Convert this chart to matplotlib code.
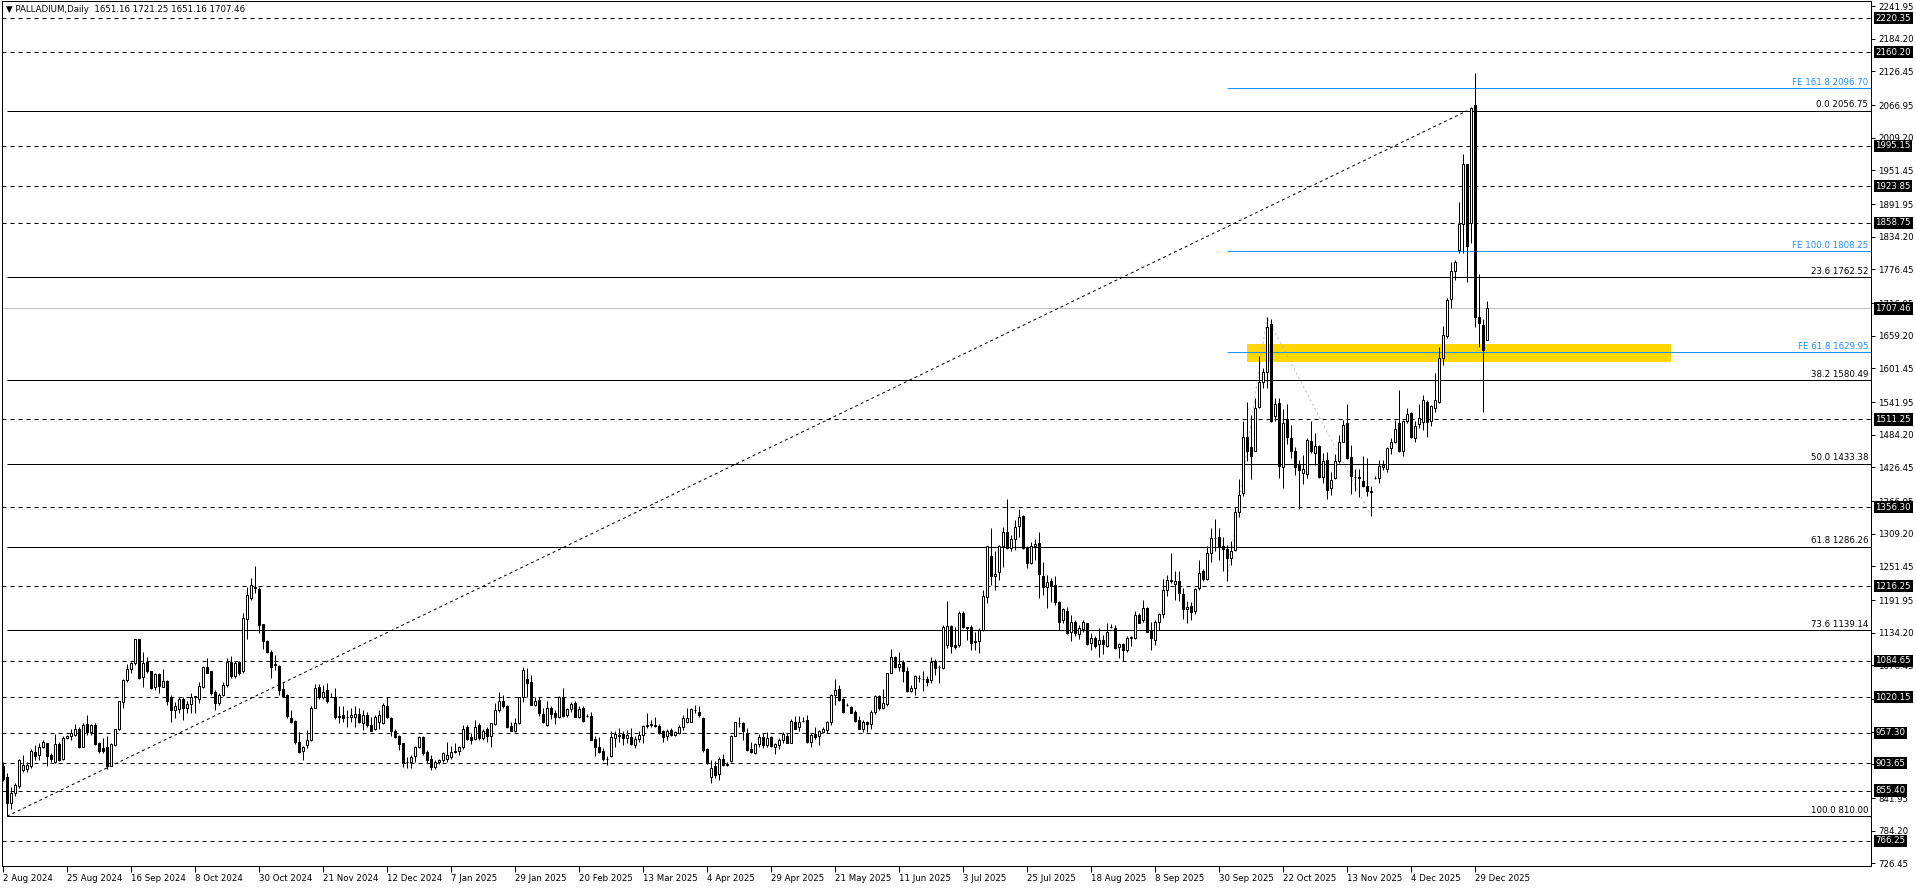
import numpy as np
import matplotlib.pyplot as plt
from matplotlib.patches import Rectangle

plt.rcParams['font.family'] = ['DejaVu Sans']
FS = 6.2
PX = 0.72  # one pixel, in points (dpi 100)

# daily OHLC, 2 Aug 2024 .. 5 Jan 2026
opens = [
    898, 880, 833, 851, 863, 891, 893, 898, 924, 918,
    933, 939, 918, 905, 938, 912, 948, 952, 953, 965,
    933, 973, 958, 971, 940, 930, 933, 899, 936, 964,
    1011, 1051, 1071, 1080, 1123, 1056, 1083, 1066, 1039, 1061,
    1039, 1049, 1021, 998, 999, 1017, 1001, 1008, 1021, 1018,
    1039, 1073, 1066, 1030, 1010, 1024, 1042, 1083, 1057, 1083,
    1066, 1158, 1195, 1214, 1211, 1149, 1119, 1101, 1077, 1076,
    1035, 1024, 984, 978, 942, 926, 935, 945, 1002, 1039,
    1020, 1033, 1021, 1021, 985, 989, 986, 986, 986, 991,
    974, 989, 971, 965, 977, 975, 1005, 984, 960, 951,
    939, 905, 905, 917, 932, 950, 924, 912, 897, 905,
    910, 912, 915, 924, 926, 932, 967, 950, 946, 971,
    948, 964, 952, 973, 998, 1013, 1005, 970, 961, 974,
    1020, 1053, 1047, 1006, 1016, 991, 971, 1001, 992, 985,
    1021, 989, 999, 1010, 986, 1002, 987, 987, 946, 933,
    926, 911, 917, 948, 951, 955, 948, 950, 936, 947,
    953, 970, 971, 971, 970, 960, 951, 963, 954, 957,
    968, 977, 977, 997, 995, 983, 928, 880, 898, 885,
    911, 901, 907, 952, 974, 974, 957, 928, 921, 938,
    950, 936, 950, 933, 936, 944, 952, 940, 977, 967,
    979, 980, 942, 956, 951, 958, 963, 976, 1024, 1034,
    1017, 1007, 1003, 995, 980, 965, 977, 973, 995, 1023,
    1001, 1008, 1064, 1091, 1073, 1083, 1067, 1032, 1036, 1054,
    1053, 1053, 1050, 1085, 1073, 1072, 1113, 1147, 1113, 1113,
    1169, 1144, 1145, 1119, 1120, 1139, 1198, 1270, 1235, 1242,
    1287, 1313, 1284, 1300, 1323, 1341, 1285, 1258, 1287, 1293,
    1235, 1215, 1226, 1219, 1189, 1157, 1173, 1135, 1153, 1132,
    1141, 1151, 1116, 1125, 1114, 1122, 1111, 1144, 1142, 1109,
    1114, 1103, 1125, 1125, 1166, 1156, 1178, 1138, 1122, 1154,
    1168, 1209, 1227, 1221, 1226, 1203, 1176, 1182, 1172, 1213,
    1244, 1229, 1276, 1301, 1303, 1288, 1282, 1266, 1280, 1348,
    1381, 1480, 1463, 1456, 1533, 1578, 1596, 1680, 1518, 1540,
    1428, 1512, 1478, 1456, 1431, 1416, 1415, 1474, 1452, 1465,
    1410, 1440, 1390, 1408, 1437, 1472, 1505, 1445, 1410, 1409,
    1403, 1394, 1384, 1408, 1408, 1427, 1423, 1461, 1471, 1505,
    1455, 1509, 1522, 1478, 1504, 1506, 1543, 1508, 1531, 1543,
    1620, 1658, 1724, 1774, 1810, 1857, 1963, 1858, 2067, 1692,
    1678, 1651.16,
]
highs = [
    906, 886, 862, 868, 912, 919, 905, 928, 936, 940,
    944, 940, 921, 955, 942, 951, 954, 964, 973, 968,
    975, 989, 973, 975, 942, 948, 951, 939, 965, 1014,
    1052, 1079, 1083, 1124, 1123, 1101, 1092, 1067, 1064, 1063,
    1071, 1051, 1024, 1011, 1021, 1020, 1013, 1027, 1023, 1048,
    1076, 1089, 1067, 1033, 1028, 1047, 1089, 1093, 1085, 1085,
    1169, 1216, 1231, 1252, 1216, 1150, 1122, 1104, 1095, 1077,
    1046, 1026, 998, 980, 958, 934, 962, 1004, 1043, 1044,
    1042, 1045, 1027, 1036, 1005, 1005, 998, 1001, 1004, 1001,
    998, 995, 986, 989, 998, 1010, 1021, 985, 964, 954,
    940, 915, 918, 934, 952, 952, 927, 918, 910, 912,
    924, 942, 934, 939, 934, 971, 971, 957, 980, 974,
    965, 967, 975, 1010, 1030, 1024, 1007, 977, 983, 1021,
    1073, 1072, 1060, 1021, 1021, 1001, 1013, 1005, 997, 1023,
    1037, 1001, 1011, 1014, 1004, 1004, 991, 994, 951, 950,
    930, 917, 960, 960, 966, 960, 963, 966, 952, 960,
    971, 993, 980, 986, 973, 963, 964, 966, 961, 971,
    989, 1001, 1002, 1006, 1005, 986, 930, 910, 907, 915,
    920, 905, 954, 977, 986, 977, 966, 942, 940, 956,
    957, 958, 952, 940, 948, 958, 957, 981, 987, 987,
    986, 989, 957, 967, 963, 968, 979, 1026, 1053, 1042,
    1019, 1010, 1005, 997, 987, 980, 979, 998, 1024, 1024,
    1034, 1064, 1105, 1093, 1101, 1086, 1073, 1042, 1060, 1060,
    1066, 1058, 1092, 1087, 1077, 1148, 1191, 1148, 1145, 1172,
    1172, 1145, 1148, 1136, 1142, 1210, 1288, 1319, 1278, 1290,
    1321, 1370, 1307, 1333, 1353, 1343, 1287, 1295, 1300, 1313,
    1260, 1237, 1231, 1235, 1191, 1178, 1179, 1166, 1156, 1148,
    1157, 1152, 1134, 1128, 1142, 1131, 1152, 1149, 1148, 1117,
    1116, 1128, 1129, 1172, 1170, 1192, 1179, 1154, 1156, 1170,
    1229, 1237, 1275, 1244, 1244, 1213, 1191, 1188, 1213, 1263,
    1247, 1287, 1319, 1335, 1319, 1304, 1290, 1297, 1356, 1406,
    1508, 1543, 1519, 1549, 1624, 1602, 1692, 1688, 1549, 1549,
    1529, 1539, 1502, 1463, 1440, 1449, 1478, 1508, 1487, 1466,
    1452, 1453, 1419, 1451, 1484, 1511, 1539, 1466, 1423, 1423,
    1446, 1443, 1393, 1412, 1440, 1440, 1463, 1478, 1511, 1564,
    1511, 1531, 1525, 1508, 1539, 1555, 1546, 1537, 1593, 1639,
    1676, 1726, 1790, 1793, 1896, 1981, 1963, 2063, 2124, 1769,
    1688, 1721.25,
]
lows = [
    872, 810, 822, 845, 859, 888, 888, 896, 909, 909,
    930, 899, 905, 904, 907, 909, 946, 945, 951, 930,
    933, 954, 954, 936, 921, 921, 893, 898, 934, 962,
    1001, 1048, 1063, 1077, 1052, 1039, 1063, 1034, 1033, 1027,
    1038, 1007, 977, 983, 992, 980, 993, 992, 992, 1010,
    1036, 1063, 1024, 997, 1007, 1023, 1039, 1054, 1054, 1060,
    1064, 1123, 1193, 1204, 1133, 1105, 1099, 1054, 1069, 1024,
    1021, 983, 975, 938, 921, 910, 930, 943, 1001, 1018,
    1017, 1010, 1020, 982, 974, 977, 968, 977, 968, 975,
    962, 968, 960, 962, 965, 973, 983, 951, 948, 927,
    897, 895, 895, 905, 930, 918, 904, 892, 893, 902,
    905, 905, 911, 921, 918, 928, 945, 938, 944, 945,
    945, 942, 933, 971, 995, 1001, 966, 960, 958, 973,
    1011, 1020, 1006, 1004, 987, 974, 970, 981, 973, 983,
    986, 986, 995, 985, 983, 977, 986, 944, 917, 921,
    907, 900, 915, 932, 942, 935, 940, 936, 930, 942,
    939, 966, 968, 967, 955, 942, 945, 951, 952, 955,
    963, 974, 976, 992, 986, 924, 902, 868, 877, 874,
    898, 899, 905, 951, 968, 945, 926, 921, 920, 932,
    930, 932, 932, 920, 928, 940, 939, 939, 964, 960,
    976, 940, 932, 946, 936, 957, 957, 971, 1007, 1014,
    992, 1004, 992, 977, 964, 958, 958, 964, 991, 998,
    999, 1005, 1063, 1072, 1066, 1048, 1030, 1029, 1024, 1048,
    1032, 1040, 1045, 1060, 1045, 1070, 1107, 1098, 1105, 1109,
    1142, 1122, 1103, 1104, 1099, 1138, 1186, 1219, 1210, 1228,
    1250, 1282, 1278, 1281, 1304, 1282, 1248, 1256, 1263, 1195,
    1201, 1178, 1189, 1184, 1139, 1151, 1132, 1119, 1128, 1123,
    1136, 1113, 1104, 1107, 1091, 1097, 1109, 1142, 1105, 1089,
    1085, 1101, 1110, 1123, 1151, 1154, 1135, 1104, 1113, 1139,
    1160, 1199, 1222, 1192, 1191, 1158, 1151, 1157, 1168, 1210,
    1225, 1227, 1260, 1278, 1262, 1244, 1225.25, 1254, 1278, 1338,
    1376, 1437, 1406, 1455, 1531, 1567, 1567, 1506, 1509, 1408,
    1390, 1468, 1443, 1413, 1353, 1397, 1408, 1452, 1431, 1408,
    1399, 1370, 1378, 1406, 1435, 1471, 1441, 1380, 1384, 1375,
    1392, 1376, 1341.5, 1406, 1399, 1422, 1418, 1451, 1469, 1453,
    1446, 1505, 1478, 1472, 1496, 1493, 1481, 1499, 1524, 1541,
    1608, 1655, 1708, 1757, 1806, 1805, 1755, 1823, 1674, 1640,
    1524, 1651.16,
]
closes = [
    876, 833, 851, 866, 910, 900, 900, 925, 916, 933,
    941, 916, 911, 938, 910, 948, 951, 957, 964, 933,
    971, 958, 971, 938, 926, 926, 899, 938, 965, 1013,
    1051, 1070, 1080, 1123, 1054, 1080, 1066, 1037, 1061, 1040,
    1049, 1013, 998, 1004, 1017, 1002, 1008, 1021, 1022, 1040,
    1073, 1064, 1028, 1010, 1024, 1042, 1083, 1057, 1081, 1064,
    1160, 1201, 1218, 1216, 1148, 1119, 1101, 1074, 1079, 1033,
    1023, 987, 977, 942, 924, 932, 945, 1002, 1036, 1021,
    1030, 1013, 1021, 985, 987, 983, 985, 989, 991, 977,
    989, 971, 961, 986, 989, 1007, 986, 960, 950, 938,
    904, 905, 915, 932, 950, 921, 910, 897, 906, 910,
    921, 918, 924, 926, 932, 964, 946, 945, 968, 948,
    961, 951, 974, 998, 1013, 1004, 968, 961, 974, 1020,
    1069, 1046, 1007, 1014, 993, 976, 1001, 991, 985, 1021,
    988, 999, 1008, 986, 1000, 979, 987, 945, 933, 924,
    911, 912, 950, 955, 954, 948, 954, 938, 947, 953,
    970, 971, 973, 970, 957, 950, 960, 954, 958, 967,
    983, 984, 999, 997, 989, 927, 904, 895, 883, 911,
    901, 903, 952, 976, 975, 960, 927, 923, 938, 950,
    936, 948, 934, 938, 944, 956, 940, 979, 965, 977,
    979, 942, 954, 950, 960, 964, 977, 1024, 1033, 1016,
    995, 1006, 993, 979, 965, 977, 973, 995, 1023, 1001,
    1010, 1063, 1092, 1073, 1079, 1067, 1032, 1037, 1057, 1054,
    1052, 1048, 1083, 1072, 1074, 1145, 1146, 1111, 1109, 1169,
    1144, 1143, 1117, 1118, 1139, 1199, 1287, 1234, 1238, 1288,
    1313, 1284, 1300, 1322, 1338, 1284, 1257, 1288, 1291, 1238,
    1215, 1224, 1217, 1188, 1154, 1176, 1134, 1153, 1134, 1142,
    1153, 1115, 1125, 1111, 1122, 1114, 1136, 1144, 1108, 1115,
    1103, 1125, 1126, 1166, 1152, 1178, 1136, 1125, 1154, 1168,
    1210, 1228, 1225, 1225, 1204, 1176, 1179, 1171, 1211, 1240,
    1229, 1276, 1301, 1302, 1287, 1282, 1267, 1278, 1347, 1378,
    1480, 1456, 1447, 1531, 1578, 1596, 1674, 1509, 1539, 1429,
    1505, 1481, 1455, 1428, 1422, 1423, 1475, 1455, 1465, 1410,
    1437, 1387, 1405, 1437, 1472, 1502, 1443, 1412, 1409, 1408,
    1394, 1384, 1383, 1408, 1429, 1431, 1461, 1471, 1494, 1456,
    1508, 1521, 1481, 1500, 1514, 1545, 1506, 1535, 1545, 1620,
    1661, 1723, 1774, 1790, 1857, 1963, 1817, 2061, 1693, 1681,
    1634, 1707.46,
]

date_labels = ['2 Aug 2024', '25 Aug 2024', '16 Sep 2024', '8 Oct 2024', '30 Oct 2024',
               '21 Nov 2024', '12 Dec 2024', '7 Jan 2025', '29 Jan 2025', '20 Feb 2025',
               '13 Mar 2025', '4 Apr 2025', '29 Apr 2025', '21 May 2025', '11 Jun 2025',
               '3 Jul 2025', '25 Jul 2025', '18 Aug 2025', '8 Sep 2025', '30 Sep 2025',
               '22 Oct 2025', '13 Nov 2025', '4 Dec 2025', '29 Dec 2025']
bars_per_label = 16

price_ticks = [2241.95, 2184.20, 2126.45, 2066.95, 2009.20, 1951.45, 1891.95, 1834.20,
               1776.45, 1716.95, 1659.20, 1601.45, 1541.95, 1484.20, 1426.45, 1366.95,
               1309.20, 1251.45, 1191.95, 1134.20, 1076.45, 1016.95, 959.20, 901.45,
               841.95, 784.20, 726.45]

# horizontal dashed levels (labelled in black boxes on the price scale)
dashed_levels = [2220.35, 2160.20, 1995.15, 1923.85, 1858.75, 1511.25, 1356.30,
                 1216.25, 1084.65, 1020.15, 957.30, 903.65, 855.40, 766.25]
last_price = 1707.46

# fibonacci retracement
fib_pct = [0.0, 23.6, 38.2, 50.0, 61.8, 73.6, 100.0]
fib_prices = [2056.75, 1762.52, 1580.49, 1433.38, 1286.26, 1139.14, 810.00]
fib_anchor_bars = [1, 366]
fib_anchor_prices = [810.00, 2056.75]

# fibonacci expansion
fe_pct = [61.8, 100.0, 161.8]
fe_prices = [1629.95, 1808.25, 2096.70]
fe_bars = [306, 316, 342]
fe_points = [1225.25, 1692.0, 1341.5]

# yellow zone
zone_bars = (311, 417)
zone_prices = (1612.0, 1645.0)

title = '\u25bc PALLADIUM,Daily  1651.16 1721.25 1651.16 1707.46'

# ---------------------------------------------------------------
W, H = 1916, 888
fig = plt.figure(figsize=(W / 100, H / 100), dpi=100)
ax = fig.add_axes([2 / W, 22 / H, 1869 / W, 865 / H])
XMAX = 467.0
ax.set_xlim(-0.25, XMAX)
ax.set_ylim(722.0, 2250.9)

ax.add_patch(Rectangle((zone_bars[0], zone_prices[0]), zone_bars[1] - zone_bars[0],
                       zone_prices[1] - zone_prices[0], facecolor='#FFD700',
                       edgecolor='none', zorder=0.5))

for lv in dashed_levels:
    ax.axhline(lv, color='black', lw=PX, dashes=(4, 4), zorder=1)
ax.axhline(last_price, color='#C0C0C0', lw=PX, zorder=1)

ax.hlines(fib_prices, fib_anchor_bars[0], XMAX, color='black', lw=PX, zorder=1)
ax.plot(fib_anchor_bars, fib_anchor_prices, color='black', lw=PX, dashes=(3, 3), zorder=1)
for pct, p in zip(fib_pct, fib_prices):
    ax.annotate(f'{pct:.1f} {p:.2f}', xy=(0.9985, p), xycoords=('axes fraction', 'data'),
                xytext=(0, 1), textcoords='offset points', ha='right', va='bottom',
                fontsize=FS, color='black')

ax.hlines(fe_prices, fe_bars[0], XMAX, color='#1E90FF', lw=PX, zorder=1.2)
ax.plot(fe_bars, fe_points, color='#B8B8B8', lw=PX, dashes=(2, 3), zorder=1)
for pct, p in zip(fe_pct, fe_prices):
    ax.annotate(f'FE {pct:.1f} {p:.2f}', xy=(0.9985, p), xycoords=('axes fraction', 'data'),
                xytext=(0, 1), textcoords='offset points', ha='right', va='bottom',
                fontsize=FS, color='#1E90FF')

# candles
o = np.array(opens, dtype=float)
c = np.array(closes, dtype=float)
x = np.arange(len(c))
up = c >= o
ax.vlines(x, lows, highs, color='black', lw=PX, zorder=2)
ax.bar(x[up], c[up] - o[up], bottom=o[up], width=0.5, facecolor='white',
       edgecolor='black', linewidth=PX, zorder=3)
ax.bar(x[~up], c[~up] - o[~up], bottom=o[~up], width=0.5, facecolor='black',
       edgecolor='black', linewidth=PX, zorder=3)

# axes styling
for s in ax.spines.values():
    s.set_color('black')
    s.set_linewidth(PX)
ax.yaxis.tick_right()
ax.set_yticks(price_ticks)
ax.set_yticklabels([f'{v:.2f}' for v in price_ticks])
ax.tick_params(axis='y', length=3, width=PX, pad=2, labelsize=FS, colors='black')
ax.set_xticks(np.arange(len(date_labels)) * bars_per_label)
ax.set_xticklabels(date_labels, ha='left')
ax.tick_params(axis='x', length=4, width=PX, pad=2, labelsize=FS, colors='black')

# boxed level labels on the price scale
for lv in dashed_levels + [last_price]:
    ax.annotate(f'{lv:.2f}', xy=(1.0, lv), xycoords=('axes fraction', 'data'),
                xytext=(3.2, 0), textcoords='offset points', ha='left', va='center',
                fontsize=FS, color='white', zorder=10, annotation_clip=False,
                bbox=dict(boxstyle='square,pad=0.18', facecolor='black', edgecolor='none'))

fig.text(6 / W, 1 - 10 / H, title, fontsize=FS, va='center', ha='left', color='black')

fig.savefig('out.png', dpi=100)
